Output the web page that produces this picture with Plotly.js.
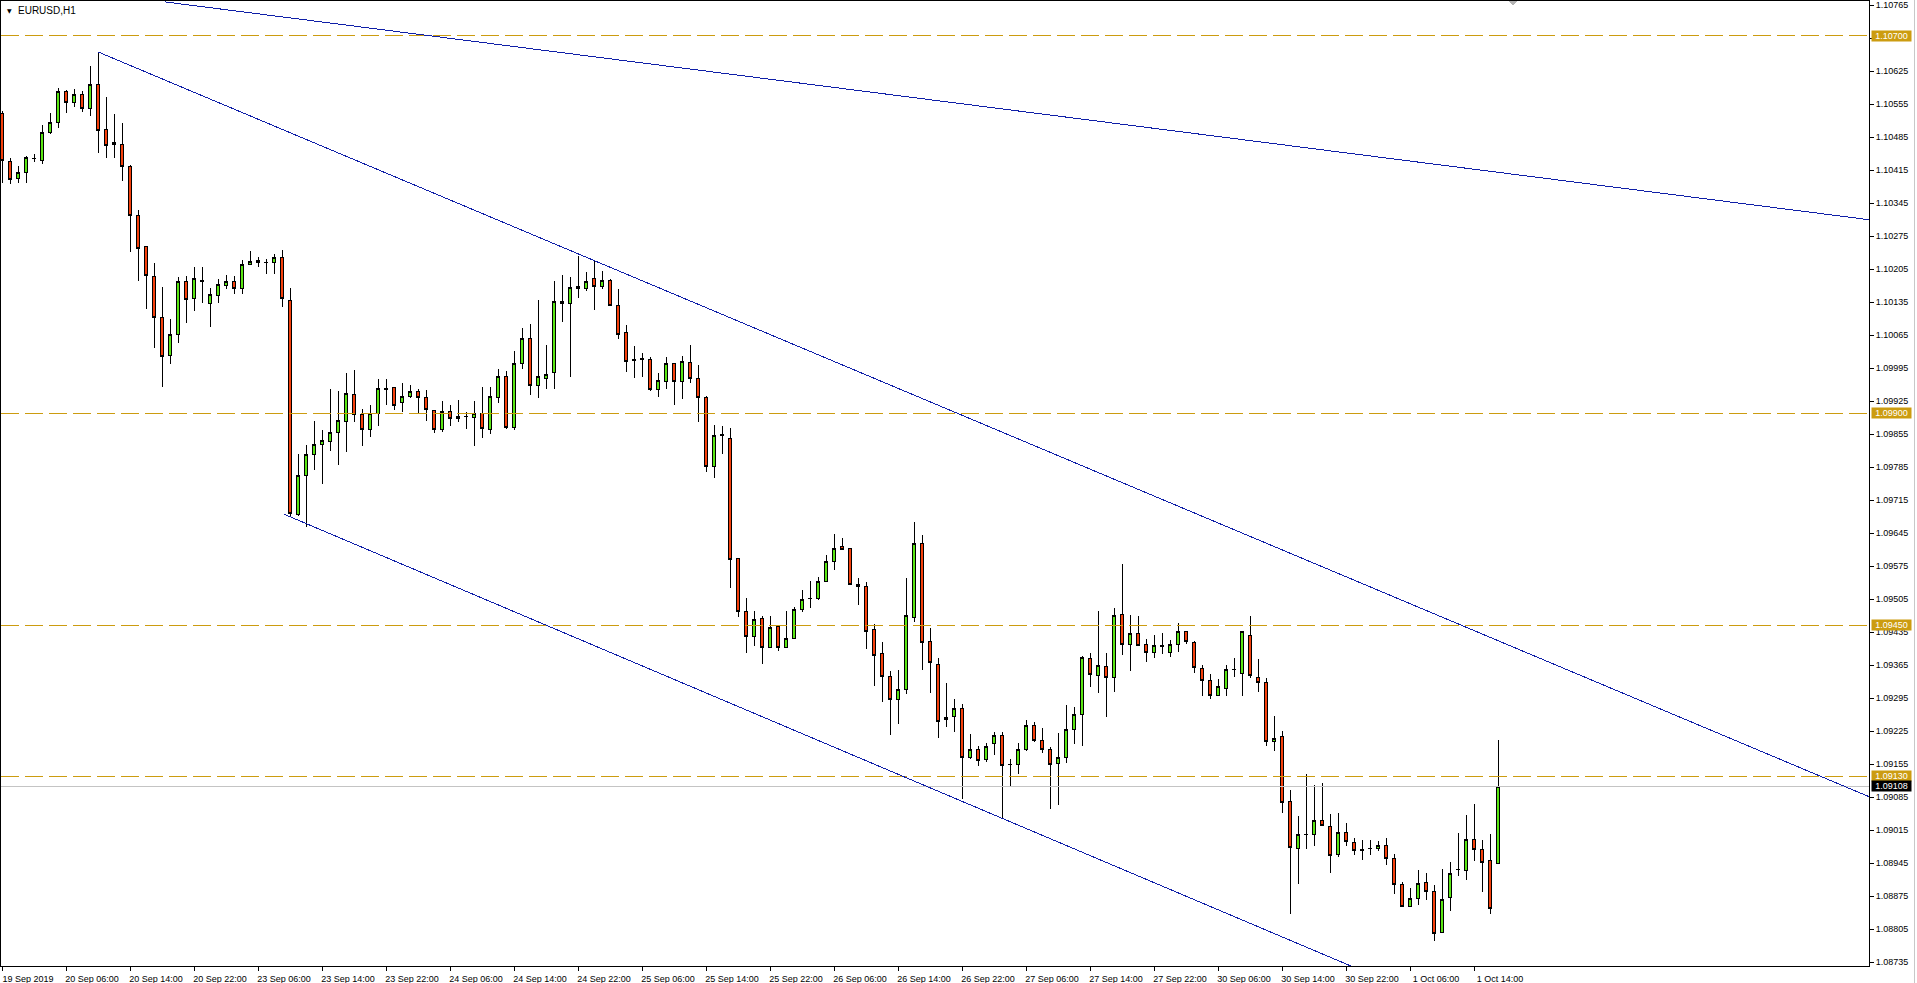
<!DOCTYPE html>
<html>
<head>
<meta charset="utf-8">
<script src="https://cdn.plot.ly/plotly-3.0.1.min.js"></script>
<style>
html,body{margin:0;padding:0;background:#ffffff;overflow:hidden;}
#chart{width:1917px;height:983px;}
#chart path.box{shape-rendering:crispEdges;}
#chart .shapelayer path{shape-rendering:crispEdges;}
</style>
</head>
<body>
<div id="chart"></div>
<script>
// ---------------- DATA ----------------
const symbolTitle = "EURUSD,H1";
const firstBarTime = "2019-09-19 22:00";   // first hourly bar (weekends have no bars)

const openP = [
1.10535,1.10433,1.10397,1.10410,1.10439,1.10435,1.10496,1.10516,1.10583,1.10558,
1.10575,1.10547,1.10596,1.10501,1.10469,1.10469,1.10424,1.10320,1.10253,1.10189,
1.10102,1.10021,1.10066,1.10180,1.10142,1.10180,1.10132,1.10149,1.10170,1.10178,
1.10164,1.10216,1.10223,1.10219,1.10219,1.10229,1.10138,1.09685,1.09768,1.09813,
1.09834,1.09840,1.09859,1.09883,1.09940,1.09896,1.09866,1.09898,1.09953,1.09955,
1.09923,1.09934,1.09946,1.09932,1.09906,1.09866,1.09904,1.09889,1.09893,1.09891,
1.09900,1.09866,1.09932,1.09978,1.09870,1.10006,1.10059,1.09959,1.09974,1.09985,
1.10137,1.10133,1.10169,1.10165,1.10186,1.10169,1.10182,1.10129,1.10070,1.10013,
1.10014,1.10014,1.09950,1.09966,1.10006,1.09966,1.10008,1.09974,1.09932,1.09787,
1.09854,1.09847,1.09592,1.09480,1.09425,1.09465,1.09403,1.09448,1.09403,1.09422,
1.09484,1.09506,1.09507,1.09543,1.09584,1.09616,1.09613,1.09537,1.09531,1.09440,
1.09389,1.09342,1.09293,1.09314,1.09467,1.09624,1.09415,1.09367,1.09249,1.09257,
1.09274,1.09170,1.09187,1.09164,1.09198,1.09215,1.09154,1.09155,1.09187,1.09238,
1.09206,1.09187,1.09157,1.09170,1.09229,1.09261,1.09380,1.09344,1.09363,1.09338,
1.09473,1.09408,1.09433,1.09408,1.09393,1.09405,1.09393,1.09408,1.09437,1.09414,
1.09359,1.09333,1.09300,1.09316,1.09355,1.09348,1.09429,1.09340,1.09329,1.09204,
1.09213,1.09075,1.08977,1.09005,1.09005,1.09036,1.09022,1.08964,1.09011,1.08990,
1.08971,1.08977,1.08977,1.08983,1.08956,1.08899,1.08854,1.08871,1.08905,1.08884,
1.08799,1.08873,1.08931,1.08930,1.08996,1.08975,1.08950,1.08945
];
const highP = [
1.10540,1.10441,1.10424,1.10446,1.10450,1.10511,1.10537,1.10590,1.10586,1.10588,
1.10583,1.10636,1.10666,1.10571,1.10535,1.10516,1.10427,1.10331,1.10254,1.10219,
1.10168,1.10100,1.10189,1.10191,1.10210,1.10210,1.10166,1.10185,1.10193,1.10191,
1.10225,1.10244,1.10231,1.10227,1.10238,1.10246,1.10166,1.09814,1.09832,1.09883,
1.09864,1.09951,1.09947,1.09985,1.09992,1.09909,1.09918,1.09972,1.09972,1.09956,
1.09963,1.09960,1.09951,1.09949,1.09907,1.09926,1.09916,1.09928,1.09902,1.09925,
1.09955,1.09955,1.09994,1.09989,1.10032,1.10081,1.10089,1.10140,1.10044,1.10180,
1.10193,1.10189,1.10234,1.10199,1.10225,1.10201,1.10184,1.10163,1.10087,1.10042,
1.10027,1.10019,1.09985,1.10019,1.10007,1.10021,1.10045,1.10002,1.09936,1.09874,
1.09873,1.09868,1.09593,1.09508,1.09480,1.09470,1.09470,1.09450,1.09480,1.09488,
1.09525,1.09543,1.09552,1.09599,1.09644,1.09635,1.09614,1.09550,1.09541,1.09453,
1.09415,1.09352,1.09355,1.09549,1.09668,1.09642,1.09444,1.09381,1.09328,1.09294,
1.09283,1.09220,1.09193,1.09200,1.09223,1.09223,1.09166,1.09200,1.09249,1.09244,
1.09232,1.09191,1.09221,1.09280,1.09276,1.09384,1.09391,1.09480,1.09391,1.09486,
1.09580,1.09471,1.09469,1.09420,1.09429,1.09433,1.09418,1.09454,1.09438,1.09416,
1.09365,1.09346,1.09336,1.09365,1.09380,1.09438,1.09469,1.09378,1.09338,1.09258,
1.09226,1.09100,1.09045,1.09134,1.09111,1.09115,1.09049,1.09051,1.09030,1.08998,
1.08994,1.08994,1.08992,1.08998,1.08964,1.08905,1.08892,1.08930,1.08924,1.08899,
1.08933,1.08947,1.09009,1.09047,1.09070,1.08994,1.09007,1.09206
];
const lowP = [
1.10388,1.10386,1.10388,1.10388,1.10433,1.10429,1.10492,1.10505,1.10537,1.10549,
1.10539,1.10530,1.10452,1.10441,1.10441,1.10392,1.10242,1.10181,1.10121,1.10038,
1.09955,1.10004,1.10049,1.10092,1.10117,1.10134,1.10083,1.10134,1.10164,1.10153,
1.10153,1.10214,1.10210,1.10195,1.10195,1.10125,1.09680,1.09682,1.09658,1.09779,
1.09750,1.09820,1.09789,1.09818,1.09880,1.09829,1.09850,1.09873,1.09918,1.09907,
1.09903,1.09931,1.09901,1.09884,1.09857,1.09859,1.09873,1.09882,1.09867,1.09829,
1.09848,1.09855,1.09921,1.09867,1.09863,1.09994,1.09939,1.09931,1.09950,1.09950,
1.10094,1.09976,1.10143,1.10158,1.10118,1.10163,1.10126,1.10058,1.09988,1.09975,
1.09977,1.09946,1.09933,1.09950,1.09916,1.09929,1.09963,1.09881,1.09774,1.09763,
1.09814,1.09529,1.09468,1.09391,1.09405,1.09367,1.09402,1.09396,1.09402,1.09420,
1.09477,1.09487,1.09504,1.09542,1.09567,1.09609,1.09536,1.09492,1.09399,1.09322,
1.09286,1.09216,1.09241,1.09304,1.09457,1.09354,1.09307,1.09210,1.09233,1.09224,
1.09081,1.09167,1.09152,1.09160,1.09174,1.09041,1.09108,1.09135,1.09183,1.09203,
1.09179,1.09060,1.09068,1.09157,1.09198,1.09193,1.09319,1.09306,1.09256,1.09309,
1.09386,1.09352,1.09405,1.09371,1.09380,1.09388,1.09382,1.09393,1.09410,1.09348,
1.09299,1.09293,1.09299,1.09300,1.09340,1.09300,1.09338,1.09308,1.09193,1.09184,
1.09051,1.08838,1.08901,1.08975,1.08981,1.09023,1.08924,1.08958,1.08981,1.08962,
1.08952,1.08962,1.08971,1.08941,1.08880,1.08852,1.08853,1.08856,1.08867,1.08781,
1.08798,1.08843,1.08917,1.08909,1.08950,1.08883,1.08837,1.08944
];
const closeP = [
1.10435,1.10395,1.10410,1.10441,1.10440,1.10496,1.10516,1.10583,1.10558,1.10575,
1.10547,1.10596,1.10499,1.10467,1.10473,1.10424,1.10318,1.10250,1.10191,1.10102,
1.10019,1.10066,1.10180,1.10140,1.10185,1.10181,1.10151,1.10172,1.10180,1.10164,
1.10216,1.10221,1.10219,1.10220,1.10229,1.10142,1.09686,1.09768,1.09811,1.09834,
1.09841,1.09858,1.09885,1.09942,1.09896,1.09866,1.09898,1.09951,1.09950,1.09917,
1.09934,1.09946,1.09932,1.09908,1.09866,1.09904,1.09889,1.09893,1.09892,1.09898,
1.09868,1.09934,1.09978,1.09869,1.10006,1.10059,1.09959,1.09977,1.09982,1.10137,
1.10133,1.10167,1.10165,1.10178,1.10169,1.10182,1.10129,1.10067,1.10009,1.10012,
1.10015,1.09950,1.09968,1.10006,1.09966,1.10010,1.09974,1.09932,1.09787,1.09853,
1.09853,1.09590,1.09479,1.09425,1.09463,1.09403,1.09446,1.09403,1.09422,1.09484,
1.09505,1.09507,1.09543,1.09584,1.09613,1.09611,1.09537,1.09533,1.09437,1.09386,
1.09342,1.09293,1.09314,1.09470,1.09624,1.09414,1.09370,1.09246,1.09255,1.09274,
1.09170,1.09186,1.09162,1.09193,1.09215,1.09153,1.09155,1.09187,1.09238,1.09206,
1.09187,1.09155,1.09170,1.09229,1.09261,1.09382,1.09346,1.09365,1.09340,1.09471,
1.09408,1.09433,1.09406,1.09391,1.09406,1.09406,1.09408,1.09437,1.09416,1.09361,
1.09333,1.09300,1.09319,1.09355,1.09356,1.09437,1.09344,1.09329,1.09204,1.09210,
1.09073,1.08979,1.09007,1.09006,1.09036,1.09024,1.08962,1.09011,1.08992,1.08973,
1.08975,1.08976,1.08983,1.08956,1.08899,1.08854,1.08871,1.08903,1.08884,1.08797,
1.08869,1.08924,1.08932,1.08996,1.08975,1.08947,1.08848,1.09108
];

const xTickTimes = [
"2019-09-19 22:00","2019-09-20 06:00","2019-09-20 14:00","2019-09-20 22:00",
"2019-09-23 06:00","2019-09-23 14:00","2019-09-23 22:00","2019-09-24 06:00",
"2019-09-24 14:00","2019-09-24 22:00","2019-09-25 06:00","2019-09-25 14:00",
"2019-09-25 22:00","2019-09-26 06:00","2019-09-26 14:00","2019-09-26 22:00",
"2019-09-27 06:00","2019-09-27 14:00","2019-09-27 22:00","2019-09-30 06:00",
"2019-09-30 14:00","2019-09-30 22:00","2019-10-01 06:00","2019-10-01 14:00"
];
const xTickLabels = [
"19 Sep 2019","20 Sep 06:00","20 Sep 14:00","20 Sep 22:00",
"23 Sep 06:00","23 Sep 14:00","23 Sep 22:00","24 Sep 06:00",
"24 Sep 14:00","24 Sep 22:00","25 Sep 06:00","25 Sep 14:00",
"25 Sep 22:00","26 Sep 06:00","26 Sep 14:00","26 Sep 22:00",
"27 Sep 06:00","27 Sep 14:00","27 Sep 22:00","30 Sep 06:00",
"30 Sep 14:00","30 Sep 22:00","1 Oct 06:00","1 Oct 14:00"
];
const yTickValues = [
1.08735,1.08805,1.08875,1.08945,1.09015,1.09085,1.09155,1.09225,1.09295,1.09365,
1.09435,1.09505,1.09575,1.09645,1.09715,1.09785,1.09855,1.09925,1.09995,1.10065,
1.10135,1.10205,1.10275,1.10345,1.10415,1.10485,1.10555,1.10625,1.10695,1.10765
];

const levelPrices = [1.10700, 1.09900, 1.09450, 1.09130];
const levelLabels = ["1.10700", "1.09900", "1.09450", "1.09130"];
const bidPrice = 1.09108;
const bidLabel = "1.09108";

// trend lines: anchor points as (bar number, price)
const trendTopBars = [20.4, 233.4];
const trendTopPrices = [1.10772, 1.10310];
const channelUpperBars = [12, 233.4];
const channelUpperPrices = [1.10666, 1.09086];
const channelLowerBars = [35.3, 170];
const channelLowerPrices = [1.09685, 1.08717];

// ---------------- STYLE ----------------
const FONT = "Liberation Sans, Arial, sans-serif";
const BULL = "#5ae614";
const BEAR = "#f5400c";
const LEVEL = "#cc9c10";
const TREND = "#0f1fa8";

// hourly bar times, skipping weekends
function hourlyTimes(start, n) {
  const out = [];
  let t = Date.UTC(+start.slice(0,4), +start.slice(5,7)-1, +start.slice(8,10), +start.slice(11,13));
  const p2 = v => String(v).padStart(2, "0");
  while (out.length < n) {
    const d = new Date(t);
    const wd = d.getUTCDay();
    if (wd !== 0 && wd !== 6) {
      out.push(d.getUTCFullYear() + "-" + p2(d.getUTCMonth()+1) + "-" + p2(d.getUTCDate()) + " " + p2(d.getUTCHours()) + ":00");
    }
    t += 3600000;
  }
  return out;
}
const times = hourlyTimes(firstBarTime, openP.length);

const candles = {
  type: "candlestick",
  x: times, open: openP, high: highP, low: lowP, close: closeP,
  increasing: {line: {color: "#000000", width: 1}, fillcolor: BULL},
  decreasing: {line: {color: "#000000", width: 1}, fillcolor: BEAR},
  whiskerwidth: 0,
  hoverinfo: "skip",
  showlegend: false
};

const shapes = [];
levelPrices.forEach(p => shapes.push({
  type: "line", xref: "paper", yref: "y", x0: 0, x1: 1, y0: p, y1: p,
  line: {color: LEVEL, width: 1, dash: "18px,6px"}, layer: "above"
}));
shapes.push({
  type: "line", xref: "paper", yref: "y", x0: 0, x1: 1, y0: bidPrice, y1: bidPrice,
  line: {color: "#c4c4c4", width: 1}, layer: "above"
});
[[trendTopBars, trendTopPrices], [channelUpperBars, channelUpperPrices], [channelLowerBars, channelLowerPrices]]
  .forEach(([b, p]) => shapes.push({
    type: "line", xref: "x", yref: "y", x0: b[0], x1: b[1], y0: p[0], y1: p[1],
    line: {color: TREND, width: 1}, layer: "above"
  }));
// window frame line on the far right
shapes.push({type: "line", xref: "paper", yref: "paper", x0: 1.0246, x1: 1.0246, y0: -0.02, y1: 1.01,
  line: {color: "#c8c8c8", width: 1}});
// chart shift marker
shapes.push({type: "path", xref: "paper", yref: "paper",
  path: "M 0.8073 1 L 0.8116 1 L 0.8094 0.9948 Z", fillcolor: "#b4b4b4", line: {width: 0}});

const annotations = [];
levelPrices.forEach((p, i) => annotations.push({
  xref: "paper", x: 1, xanchor: "left", xshift: 2, yref: "y", y: p, yanchor: "middle",
  text: levelLabels[i], showarrow: false, bgcolor: LEVEL, width: 39, height: 10, borderpad: 0,
  font: {family: FONT, size: 9, color: "#ffffff"}
}));
annotations.push({
  xref: "paper", x: 1, xanchor: "left", xshift: 2, yref: "y", y: bidPrice, yanchor: "middle",
  text: bidLabel, showarrow: false, bgcolor: "#000000", width: 39, height: 10, borderpad: 0,
  font: {family: FONT, size: 9, color: "#ffffff"}
});
annotations.push({
  xref: "paper", x: 0, xanchor: "left", xshift: 4, yref: "paper", y: 1, yanchor: "middle", yshift: -9,
  text: "▼", showarrow: false, font: {family: "DejaVu Sans", size: 6, color: "#000000"}
});
annotations.push({
  xref: "paper", x: 0, xanchor: "left", xshift: 15, yref: "paper", y: 1, yanchor: "middle", yshift: -9,
  text: symbolTitle, showarrow: false, font: {family: FONT, size: 10, color: "#000000"}
});

const layout = {
  width: 1917, height: 983,
  margin: {l: 1, r: 48, t: 1, b: 17, pad: 0},
  paper_bgcolor: "#ffffff", plot_bgcolor: "#ffffff",
  showlegend: false, hovermode: false, dragmode: false,
  boxgap: 0.45,
  font: {family: FONT, size: 9, color: "#000000"},
  xaxis: {
    type: "category", categoryorder: "array", categoryarray: times,
    range: [-0.125, 233.375], autorange: false,
    showgrid: false, zeroline: false, showline: true, linecolor: "#000000", linewidth: 1, mirror: true,
    ticks: "outside", ticklen: 4, tickwidth: 1, tickcolor: "#000000",
    tickmode: "array", tickvals: xTickTimes, ticktext: xTickLabels, tickangle: 0,
    ticklabelshift: 26, ticklabelstandoff: 0,
    tickfont: {family: FONT, size: 9, color: "#000000"},
    rangeslider: {visible: false}, fixedrange: true
  },
  yaxis: {
    side: "right", range: [1.08727, 1.10774], autorange: false,
    showgrid: false, zeroline: false, showline: true, linecolor: "#000000", linewidth: 1, mirror: true,
    ticks: "outside", ticklen: 4, tickwidth: 1, tickcolor: "#000000",
    tickmode: "array", tickvals: yTickValues, tickformat: ".5f",
    tickfont: {family: FONT, size: 9, color: "#000000"}, fixedrange: true
  },
  shapes: shapes,
  annotations: annotations
};

Plotly.newPlot("chart", [candles], layout, {staticPlot: true, displayModeBar: false, responsive: false});
</script>
</body>
</html>
